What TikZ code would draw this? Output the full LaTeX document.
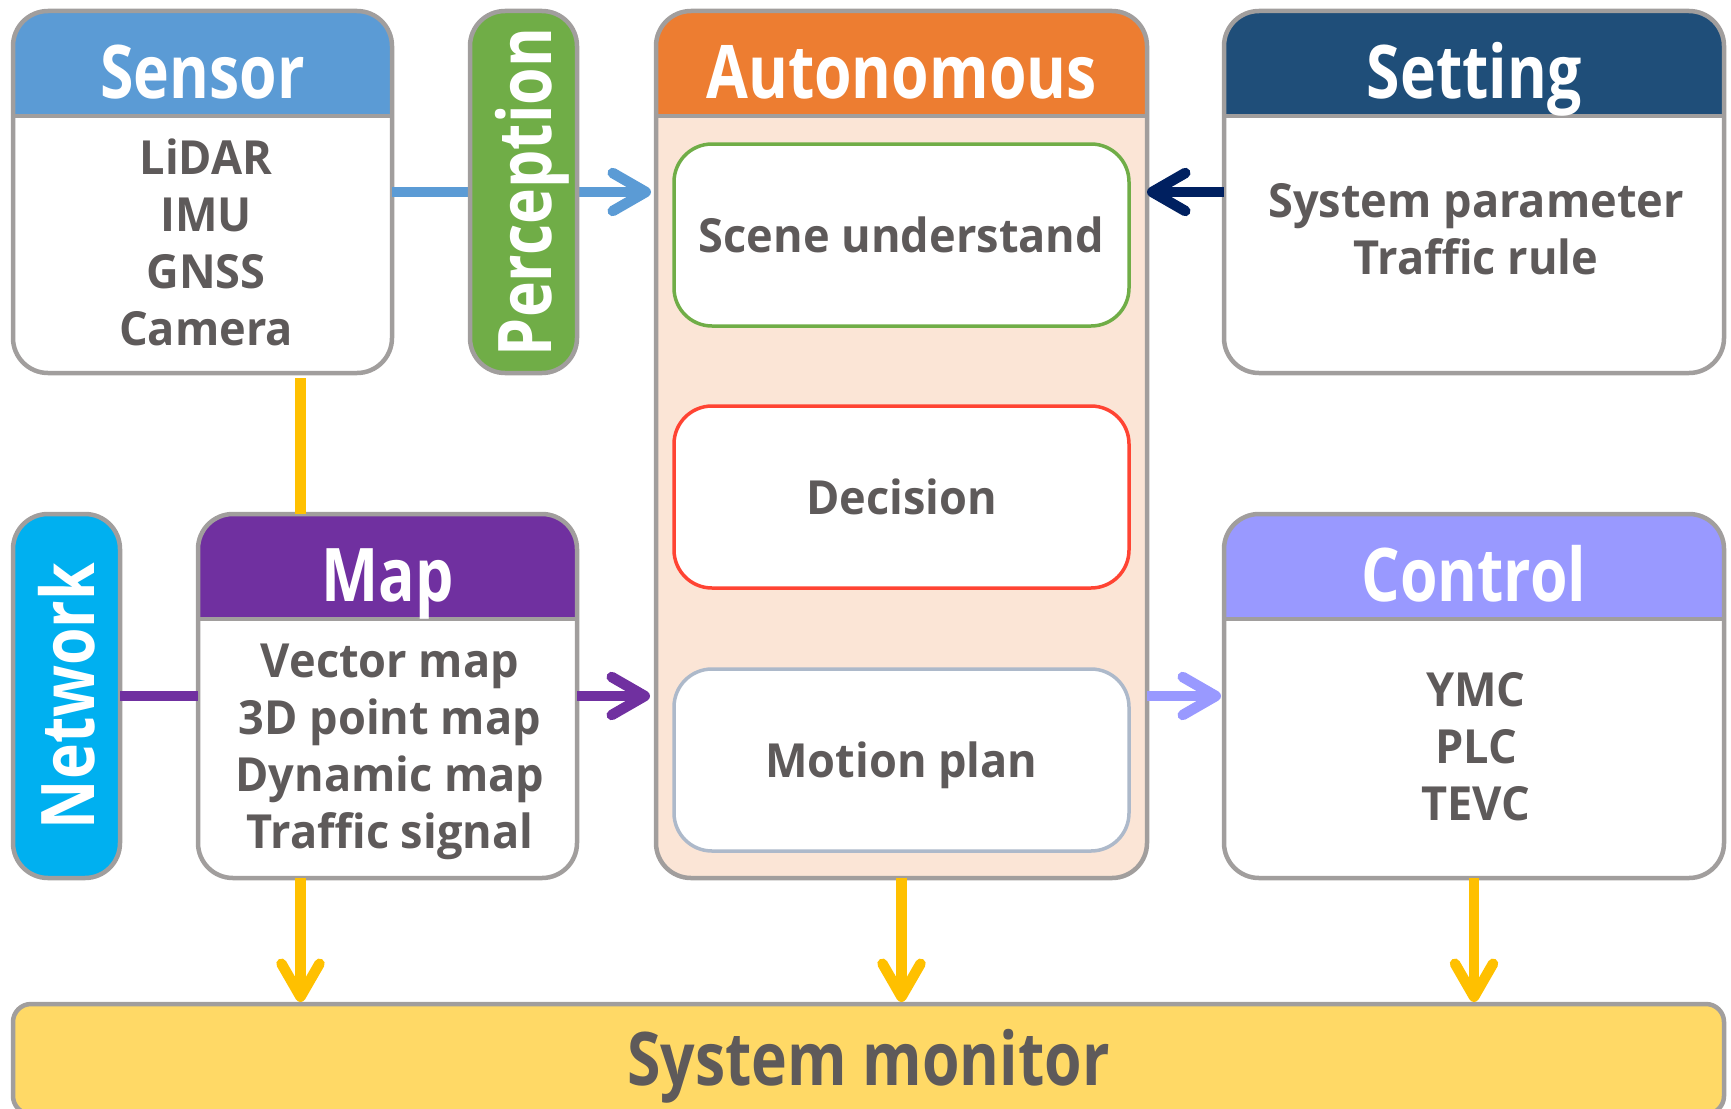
\documentclass[tikz,border=0pt]{standalone}
\usepackage{fontspec}
\setmainfont{Open Sans}[FakeStretch=0.82]
\newfontfamily\corpo{Open Sans}[FakeStretch=0.96]
\usetikzlibrary{arrows.meta}

\definecolor{bordo}{HTML}{A19E9D}
\definecolor{testo}{HTML}{5E5A5A}
\definecolor{sensore}{HTML}{5B9BD5}
\definecolor{percezione}{HTML}{70AD47}
\definecolor{autonomo}{HTML}{ED7D31}
\definecolor{autonomochiaro}{HTML}{FBE5D6}
\definecolor{impostazione}{HTML}{1F4E79}
\definecolor{rete}{HTML}{00B0F0}
\definecolor{mappa}{HTML}{7030A0}
\definecolor{controllo}{HTML}{9999FF}
\definecolor{monitor}{HTML}{FFD966}
\definecolor{giallo}{HTML}{FFC000}
\definecolor{blu}{HTML}{002060}
\definecolor{rosso}{HTML}{FF4433}
\definecolor{grigioblu}{HTML}{ADB9CA}

\newcommand{\grande}{\bfseries\fontsize{74}{80}\selectfont}
\newcommand{\medio}{\corpo\bfseries\fontsize{47}{57}\selectfont}

\begin{document}
\begin{tikzpicture}[x=1pt, y=-1pt,
  pannello/.style={draw=bordo, line width=4.5pt, rounded corners=35pt, fill=white,
    inner sep=0pt, outer sep=0pt},
  testa/.style={path picture={
    \fill[#1, sharp corners] (path picture bounding box.north west)
      rectangle ([yshift=-105pt]path picture bounding box.north east);
    \draw[bordo, line width=4pt] ([yshift=-105pt]path picture bounding box.north west)
      -- ([yshift=-105pt]path picture bounding box.north east);}},
  titolo/.style={anchor=base, text=white, font=\grande},
  voce/.style={text=testo, align=center, font=\medio},
  fase/.style={draw=#1, line width=3.5pt, rounded corners=38pt, fill=white,
    minimum width=455pt, minimum height=182pt, text=testo, font=\medio,
    text height=34pt, text depth=0pt},
  freccia/.style={draw=#1, line width=10.5pt, -{Straight Barb[length=33pt, width=38pt, round]}},
  linea/.style={draw=#1, line width=10.5pt}]
  \useasboundingbox (0,0) rectangle (1731,1108);

  % blocchi principali
  \node[pannello, testa=sensore, minimum width=379pt, minimum height=362pt] (sensor) at (202.5,192) {};
  \node[pannello, testa=autonomo, fill=autonomochiaro, minimum width=491pt, minimum height=867pt] (auto) at (901.5,444.5) {};
  \node[pannello, testa=impostazione, minimum width=500pt, minimum height=362pt] (setting) at (1474,192) {};
  \node[pannello, testa=mappa, minimum width=379pt, minimum height=364pt] (map) at (387.5,696) {};
  \node[pannello, testa=controllo, minimum width=500pt, minimum height=364pt] (control) at (1474,696) {};
  \node[pannello, fill=rete, rotate=90, minimum width=364pt, minimum height=107pt,
    text=white, font=\grande, text depth=0pt] (network) at (66.5,696) {Network};
  \node[pannello, rounded corners=18pt, fill=monitor, minimum width=1711pt, minimum height=110pt,
    text=testo, font=\grande, text height=53pt, text depth=0pt] (monitor) at (868.5,1059) {System monitor};

  \node[titolo] (tsensor) at (202.5,98) {Sensor};
  \node[titolo] (tauto) at (901.5,98) {Autonomous};
  \node[titolo] (tsetting) at (1474,98) {Setting};
  \node[titolo] (tmap) at (387.5,601) {Map};
  \node[titolo] (tcontrol) at (1474,601) {Control};

  \node[voce] (bsensor) at (206,242) {LiDAR\\IMU\\GNSS\\Camera};
  \node[voce] (bsetting) at (1476,229.5) {System parameter\\Traffic rule};
  \node[voce] (bmap) at (390,752) {Vector map\\3D point map\\Dynamic map\\Traffic signal};
  \node[voce] (bcontrol) at (1476,747) {YMC\\PLC\\TEVC};

  % fasi dentro Autonomous
  \foreach \n/\c/\y/\t in {scene/percezione/235/Scene understand,
      decision/rosso/497/Decision, motion/grigioblu/760/Motion plan}
    \node[fase=\c] (\n) at (901.5,\y) {\t};

  % collegamenti
  \draw[freccia=sensore, shorten >=5pt] (sensor.east) -- (sensor.east -| auto.west);
  \draw[freccia=blu] (setting.west) -- (setting.west -| auto.east);
  \draw[linea=giallo, shorten <=5pt] (sensor.south -| 300.5,0) -- (map.north -| 300.5,0);
  \draw[linea=mappa] (network.south) -- (map.west);
  \draw[freccia=mappa, shorten >=6pt] (map.east) -- (map.east -| auto.west);
  \draw[freccia=controllo, shorten >=3pt] (control.west -| auto.east) -- (control.west);
  \foreach \n/\x in {map/300.5, auto/901.5, control/1474}
    \draw[freccia=giallo, shorten >=2pt] (\n.south -| \x,0) -- (monitor.north -| \x,0);

  \node[pannello, fill=percezione, rotate=90, minimum width=362pt, minimum height=107pt,
    text=white, font=\grande, text depth=0pt] (perception) at (523.5,192) {Perception};
\end{tikzpicture}
\end{document}
